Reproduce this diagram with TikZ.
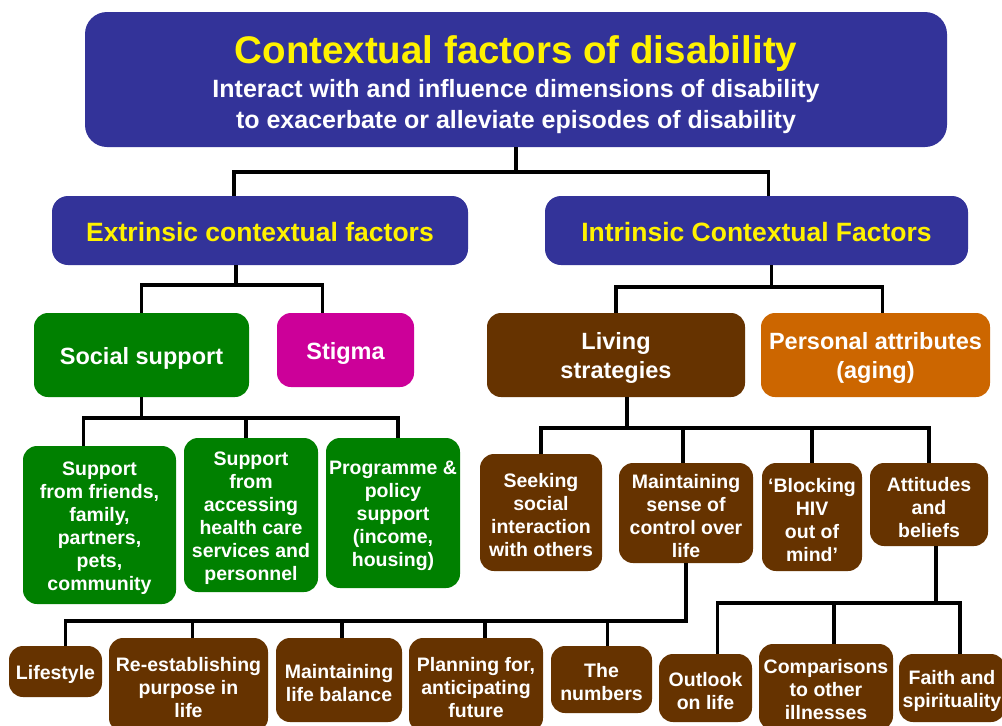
\documentclass[tikz,border=0pt]{standalone}
\usepackage{fontspec}
\setmainfont{Liberation Sans}
\usepackage{tikz}

\definecolor{factorblue}{HTML}{333399}
\definecolor{supportgreen}{HTML}{008000}
\definecolor{stigmapink}{HTML}{CC0099}
\definecolor{strategybrown}{HTML}{663300}
\definecolor{attrorange}{HTML}{CC6600}

\begin{document}
\begin{tikzpicture}[x=1pt, y=-1pt,
  plate/.style={rounded corners=14pt, align=flush center, inner sep=1pt, text=white},
  lift/.style={execute at begin node={\rule{0pt}{#1}}},
  boxw/.style={minimum width=#1, text width=#1-2},
  box/.style={plate, lift=1em, font=\bfseries\fontsize{19.5}{23}\selectfont},
  tier/.style={box, font=\bfseries\fontsize{23.5}{29}\selectfont},
  header/.style={plate, lift=0.85em, fill=factorblue, text=yellow, rounded corners=16pt,
    font=\bfseries\fontsize{26.5}{30}\selectfont},
  tree/.style={line width=3.5pt}]
  \useasboundingbox (0,0) rectangle (1002,726);
  \fill[white] (0,0) rectangle (1002,726);
  \clip (0,0) rectangle (1002,726);

  % top level
  \node[plate, fill=factorblue, rounded corners=22pt, boxw=862, minimum height=135,
    font=\bfseries\fontsize{25}{31}\selectfont] (title) at (516,79.5)
    {{\color{yellow}\fontsize{38.5}{40}\selectfont\rule{0pt}{38pt}Contextual factors of disability}\\[3pt]
     Interact with and influence dimensions of disability\\
     to exacerbate or alleviate episodes of disability};
  \node[header, boxw=416, minimum height=69] (extr) at (260,230.5) {Extrinsic contextual factors};
  \node[header, boxw=423, minimum height=69] (intr) at (756.5,230.5) {Intrinsic Contextual Factors};

  % second level
  \node[tier, fill=supportgreen, boxw=215, minimum height=84] (social) at (141.5,355) {Social support};
  \node[tier, fill=stigmapink, boxw=137, minimum height=74] (stigma) at (345.5,350) {Stigma};
  \node[tier, fill=strategybrown, boxw=258, minimum height=84] (living) at (616,355) {Living\\strategies};
  \node[tier, fill=attrorange, boxw=229, minimum height=84] (personal) at (875.5,355) {Personal attributes\\(aging)};

  % social support
  \node[box, fill=supportgreen, boxw=153, minimum height=158] (friends) at (99.5,525)
    {Support\\from friends,\\family,\\partners,\\pets,\\community};
  \node[box, fill=supportgreen, boxw=134, minimum height=154] (health) at (251,515)
    {Support\\from\\accessing\\health care\\services and\\personnel};
  \node[box, fill=supportgreen, boxw=134, minimum height=150] (programme) at (393,513)
    {Programme \&\\policy\\support\\(income,\\housing)};

  % living strategies
  \node[box, fill=strategybrown, boxw=122, minimum height=117] (seeking) at (541,512.5)
    {Seeking\\social\\interaction\\with others};
  \node[box, fill=strategybrown, boxw=134, minimum height=100] (sense) at (686,513)
    {Maintaining\\sense of\\control over\\life};
  \node[box, fill=strategybrown, boxw=100, minimum height=108] (blocking) at (812,517)
    {‘Blocking\\HIV\\out of\\mind’};
  \node[box, fill=strategybrown, boxw=118, minimum height=83] (attitudes) at (929,504.5)
    {Attitudes\\and\\beliefs};

  % bottom row
  \node[box, fill=strategybrown, boxw=93, minimum height=51] (lifestyle) at (55.5,671.5) {Lifestyle};
  \node[box, fill=strategybrown, boxw=159, minimum height=94] (purpose) at (188.5,685)
    {Re-establishing\\purpose in\\life};
  \node[box, fill=strategybrown, boxw=126, minimum height=84] (balance) at (339,680)
    {Maintaining\\life balance};
  \node[box, fill=strategybrown, boxw=134, minimum height=94] (planning) at (476,685)
    {Planning for,\\anticipating\\future};
  \node[box, fill=strategybrown, boxw=101, minimum height=67] (numbers) at (601.5,679.5)
    {The\\numbers};
  \node[box, fill=strategybrown, boxw=93, minimum height=68] (outlook) at (705.5,688)
    {Outlook\\on life};
  \node[box, fill=strategybrown, boxw=134, minimum height=86] (comparisons) at (826,687)
    {Comparisons\\to other\\illnesses};
  \node[box, fill=strategybrown, boxw=106, minimum height=68] (faith) at (952,688)
    {Faith and\\spirituality};

  % connectors
  \draw[tree] (title.south) -- ++(0,25) coordinate (topbus) -| ([xshift=-26]extr.north);
  \draw[tree] (topbus) -| ([xshift=12]intr.north);
  \draw[tree] ([xshift=-24]extr.south) -- ++(0,20) coordinate (extrbus) -| (social.north);
  \draw[tree] (extrbus) -| ([xshift=-23]stigma.north);
  \draw[tree] ([xshift=15]intr.south) -- ++(0,22) coordinate (intrbus) -| (living.north);
  \draw[tree] (intrbus) -| ([xshift=7]personal.north);
  \draw[tree] (social.south) -- ++(0,21) coordinate (socialbus);
  \foreach \leaf/\dx in {friends/-16, health/-5, programme/5}
    \draw[tree] (socialbus) -| ([xshift=\dx]\leaf.north);
  \draw[tree] ([xshift=11]living.south) -- ++(0,31) coordinate (livingbus);
  \foreach \leaf/\dx in {seeking/0, sense/-3, blocking/0, attitudes/0}
    \draw[tree] (livingbus) -| ([xshift=\dx]\leaf.north);
  \draw[tree] (sense.south) -- ++(0,58) coordinate (sensebus) -| ([xshift=10]lifestyle.north);
  \foreach \leaf/\dx in {purpose/4, balance/3, planning/9, numbers/6}
    \draw[tree] (sensebus) -| ([xshift=\dx]\leaf.north);
  \draw[tree] ([xshift=7]attitudes.south) -- ++(0,57) coordinate (attbus);
  \foreach \leaf/\dx in {outlook/12, comparisons/8, faith/8}
    \draw[tree] (attbus) -| ([xshift=\dx]\leaf.north);
\end{tikzpicture}
\end{document}
